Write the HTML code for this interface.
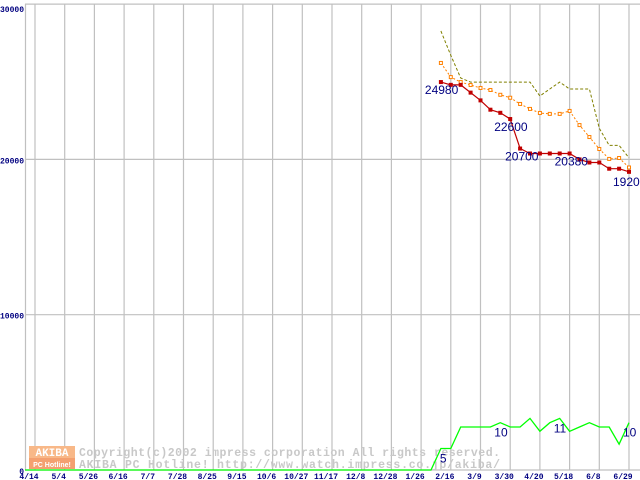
<!DOCTYPE html>
<html><head><meta charset="utf-8"><style>
html,body{margin:0;padding:0;background:#fff;}
svg{display:block;font-family:"Liberation Sans",sans-serif;}
</style></head><body>
<svg id="chart" width="640" height="480" viewBox="0 0 640 480" xmlns="http://www.w3.org/2000/svg">
<g id="grid"></g>
<g id="watermark">
  <rect x="29" y="446" width="46" height="12" fill="#f8b888"/>
  <rect x="29" y="458" width="46" height="11" fill="#f4a070"/>
  <text x="52" y="456" font-size="11" font-weight="bold" fill="#fff" text-anchor="middle" font-family="Liberation Mono,monospace">AKIBA</text>
  <text x="52" y="467" font-size="7" font-weight="bold" fill="#fff" text-anchor="middle">PC Hotline!</text>
  <text x="79" y="456" font-size="11.5" font-weight="bold" fill="#c8c8c8" font-family="Liberation Mono,monospace" textLength="421">Copyright(c)2002 impress corporation All rights reserved.</text>
  <text x="79" y="468" font-size="11.5" font-weight="bold" fill="#c8c8c8" font-family="Liberation Mono,monospace" textLength="421">AKIBA PC Hotline!  http://www.watch.impress.co.jp/akiba/</text>
</g>
<g id="series"></g>
<g id="labels"></g>
</svg>
<script>
const xLabels=["4/14","5/4","5/26","6/16","7/7","7/28","8/25","9/15","10/6","10/27","11/17","12/8","12/28","1/26","2/16","3/9","3/30","4/20","5/18","6/8","6/29"];
const yTicks=[0,10000,20000,30000];
const minPrice=[24980,24800,24800,24300,23800,23200,23000,22600,20700,20380,20380,20380,20380,20380,20000,19800,19800,19400,19400,19200];
const avgPrice=[26210,25300,24980,24790,24600,24470,24160,23970,23570,23250,22990,22930,22930,23120,22210,21440,20670,20030,20090,19480];
const maxPrice=[28270,26700,25240,24980,24980,24980,24980,24980,24980,24980,24080,24530,24980,24530,24530,24530,22000,20900,20900,20100];
const shopCount=[0,5,5,10,10,10,10,11,10,10,12,9,11,12,9,10,11,10,10,6,11];
const priceLabels=[{i:0,t:"24980",dx:-16,dy:12},{i:7,t:"22600",dx:-16,dy:12},{i:8,t:"20700",dx:-15,dy:12},{i:13,t:"20380",dx:-15,dy:12},{i:19,t:"19200",dx:-16,dy:14}];
const countLabels=[{i:1,t:"5",dy:14},{i:7,t:"10",dy:14},{i:13,t:"11",dy:14},{i:20,t:"10",dy:14}];
const NS="http://www.w3.org/2000/svg";
function xg(i){return 35+29.7*i;}
function xw(t){return 35+9.9*t;}
function yp(v){return 470-v*0.01553;}
function yc(v){return 470-v*4.3;}
function mk(tag,attrs,parent){const e=document.createElementNS(NS,tag);for(const k in attrs)e.setAttribute(k,attrs[k]);parent.appendChild(e);return e;}
const grid=document.getElementById('grid'),ser=document.getElementById('series'),lab=document.getElementById('labels');
yTicks.forEach(v=>{
  const l=mk('line',{x1:25,x2:640,y1:yp(v),y2:yp(v),stroke:'#c0c0c0','stroke-width':1.2},grid);
  
  
  const t=mk('text',{x:v===0?24:24,y:yp(v)+(v===30000?8:4),'font-size':8,'font-weight':'bold',fill:'#000080','text-anchor':'end','font-family':'Liberation Mono,monospace'},grid);
  t.textContent=String(v);
  
  
});
const ax=mk('line',{x1:25.5,x2:25.5,y1:4,y2:470,stroke:'#c0c0c0','stroke-width':1.2},grid);


xLabels.forEach((s,i)=>{
  const l=mk('line',{x1:xg(i),x2:xg(i),y1:4,y2:470,stroke:'#c0c0c0','stroke-width':1.2},grid);
  
  
  const t=mk('text',{x:xg(i)-6,y:479,'font-size':8,'font-weight':'bold',fill:'#000080','text-anchor':'middle','font-family':'Liberation Mono,monospace'},grid);
  t.textContent=s;
  
  
});
function pts(arr,t0,yf){return arr.map((v,j)=>xw(t0+j).toFixed(1)+','+yf(v).toFixed(1));}
// count line
let cp=['25,470'].concat(pts(shopCount,40,yc));
const cl=mk('polyline',{points:cp.join(' '),fill:'none',stroke:'#00ff00','stroke-width':1.3},ser);


const mx=mk('polyline',{points:pts(maxPrice,41,yp).join(' '),fill:'none',stroke:'#808000','stroke-width':1,'stroke-dasharray':'3,2'},ser);


const av=mk('polyline',{points:pts(avgPrice,41,yp).join(' '),fill:'none',stroke:'#ff8000','stroke-width':1,'stroke-dasharray':'2,2'},ser);


avgPrice.forEach((v,j)=>{
  const r=mk('rect',{x:xw(41+j)-1.5,y:yp(v)-1.5,width:3,height:3,fill:'#fff',stroke:'#ff8000','stroke-width':1},ser);
  
  
});
const mn=mk('polyline',{points:pts(minPrice,41,yp).join(' '),fill:'none',stroke:'#c00000','stroke-width':1.2},ser);


minPrice.forEach((v,j)=>{
  const r=mk('rect',{x:xw(41+j)-2,y:yp(v)-2,width:4,height:4,fill:'#c00000'},ser);
  
  
});
priceLabels.forEach(p=>{
  const t=mk('text',{x:xw(41+p.i)+p.dx,y:yp(minPrice[p.i])+p.dy,'font-size':12,fill:'#000080'},lab);
  t.textContent=p.t;
  
  
});
countLabels.forEach(p=>{
  const t=mk('text',{x:xw(40+p.i)-(p.t.length>1?6:1),y:yc(shopCount[p.i])+p.dy,'font-size':12,fill:'#000080'},lab);
  t.textContent=p.t;
  
  
});
</script>
</body></html>
